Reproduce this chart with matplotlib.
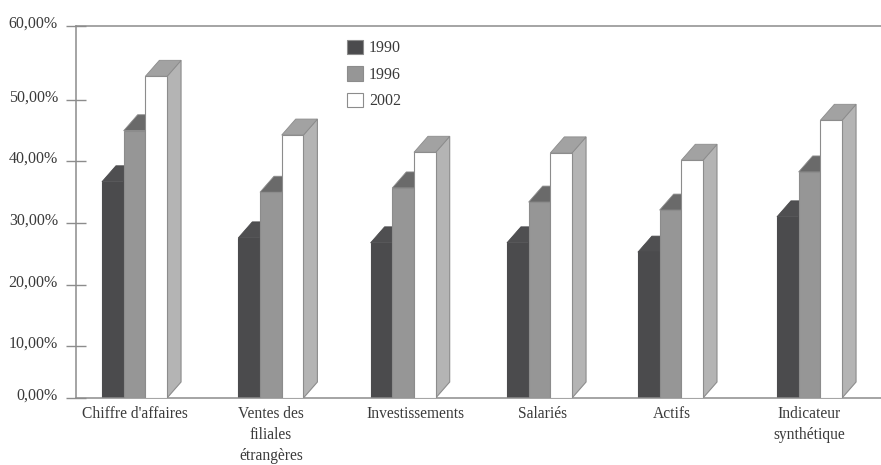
# histogramme 3D - parts en %, 1990 / 1996 / 2002
import numpy as np
import matplotlib
matplotlib.use("Agg")
import matplotlib.pyplot as plt
from matplotlib.patches import Patch, Polygon
from matplotlib.transforms import IdentityTransform, ScaledTranslation

categories = ["Chiffre d'affaires", "Ventes des\nfiliales\nétrangères", "Investissements",
              "Salariés", "Actifs", "Indicateur\nsynthétique"]
v1990 = [36.7, 27.6, 26.8, 26.8, 25.3, 31.0]
v1996 = [45.0, 35.0, 35.7, 33.4, 32.1, 38.3]
v2002 = [53.2, 44.3, 41.5, 41.4, 40.2, 46.7]
annees = ["1990", "1996", "2002"]
ticks = [0, 10, 20, 30, 40, 50, 60]
tick_labels = ["0,00%", "10,00%", "20,00%", "30,00%", "40,00%", "50,00%", "60,00%"]

# l'axe du scan n'est pas regulier : hauteur de chaque graduation en pixels
tick_h = [0, 52, 113, 175, 236.5, 298, 372]
# petits decalages des groupes et des etiquettes (en fraction d'intervalle)
decal_groupe = [0, 0.01, -0.01, 0, -0.03, 0]
decal_label = [0, 0.01, 0.08, 0.02, -0.02, 0]

plt.rcParams["font.family"] = ["Liberation Serif", "DejaVu Serif"]
gris = "#8c8c8c"
texte = "#3a3a3a"
W, H = 881, 465
fig = plt.figure(figsize=(W / 100, H / 100), dpi=100)
ax = fig.add_axes([76 / W, (H - 398) / H, (W - 76) / W, 372 / H])

ax.set_yscale("function", functions=(lambda v: np.interp(v, ticks, tick_h),
                                     lambda p: np.interp(p, tick_h, ticks)))
ax.set_ylim(0, 60)
ax.set_xlim((76 - 134.5) / 135, (W - 134.5) / 135)

x = np.arange(len(categories)) + np.array(decal_groupe)
larg = 21.7 / 135
dx, dy = 14, 16  # profondeur 3D en pixels

series = [v1990, v1996, v2002]
faces = ["#4b4b4d", "#969696", "white"]
dessus = ["#4f4f51", "#6a6a6a", "#a2a2a2"]
cotes = ["#4b4b4d", "#969696", "#b4b4b4"]
bords = ["#4b4b4d", "#8c8c8c", "#8c8c8c"]
for s, vals in enumerate(series):
    pos = x + (s - 1) * larg
    for p, v in zip(pos, vals):
        g, h = ax.transData.transform((p - larg / 2, v))
        d, b = ax.transData.transform((p + larg / 2, 0))
        ax.add_patch(Polygon([(d, b), (d + dx, b + dy), (d + dx, h + dy), (d, h)], closed=True,
                             transform=IdentityTransform(), fc=cotes[s], ec=bords[s], lw=0.8, zorder=2 + s))
        ax.add_patch(Polygon([(g, h), (g + dx, h + dy), (d + dx, h + dy), (d, h)], closed=True,
                             transform=IdentityTransform(), fc=dessus[s], ec=bords[s], lw=0.6, zorder=2 + s))
    ax.bar(pos, vals, larg, color=faces[s], edgecolor=bords[s], linewidth=0.8, zorder=2.5 + s)

for c in ["right"]:
    ax.spines[c].set_visible(False)
for c in ["left", "top", "bottom"]:
    ax.spines[c].set_color(gris)
    ax.spines[c].set_linewidth(1.1)

ax.set_yticks(ticks)
ax.set_yticklabels(tick_labels, fontsize=11.5, color=texte)
ax.tick_params(axis="y", direction="inout", length=14, width=1, color=gris, pad=6)
decale = ScaledTranslation(0, 4.5 / 100, fig.dpi_scale_trans)
for lab in ax.get_yticklabels():
    lab.set_transform(lab.get_transform() + decale)

ax.set_xticks(np.arange(len(categories)) + np.array(decal_label))
ax.set_xticklabels(categories, fontsize=11.2, color=texte, linespacing=1.42)
ax.tick_params(axis="x", length=0, pad=6)

poignees = [Patch(fc=f, ec=gris, lw=0.8) for f in faces]
ax.legend(poignees, annees, loc="upper left", bbox_to_anchor=(0.323, 0.993), frameon=False,
          fontsize=11.5, labelcolor=texte, handlelength=1.0, handleheight=1.0,
          handletextpad=0.35, labelspacing=0.62, borderpad=0.2)

fig.savefig("out.png", dpi=100)
